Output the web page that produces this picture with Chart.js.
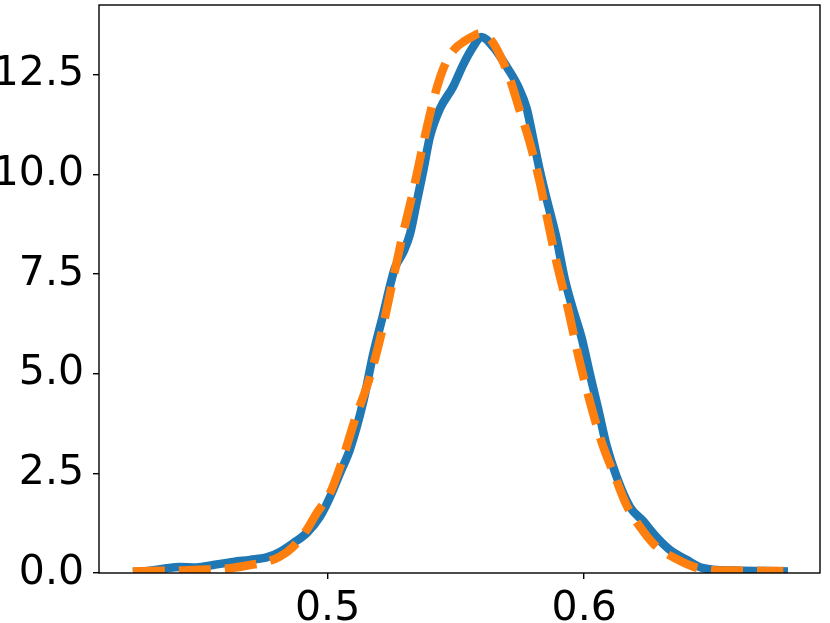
<!DOCTYPE html>
<html>
<head>
<meta charset="utf-8">
<script src="https://cdn.jsdelivr.net/npm/chart.js@4"></script>
<style>
  html, body { margin: 0; padding: 0; background: #fff; }
  #wrap { width: 830px; height: 623px; }
</style>
</head>
<body>
<div id="wrap"><canvas id="kdeChart" width="830" height="623"></canvas></div>
<script>
// solid blue curve
const blueX = [0.4241, 0.4307, 0.4373, 0.4424, 0.4489, 0.4554, 0.4632, 0.4697, 0.4762, 0.4814,
  0.4866, 0.4918, 0.4970, 0.5009, 0.5048, 0.5087, 0.5139, 0.5178, 0.5217, 0.5243,
  0.5262, 0.5295, 0.5321, 0.5347, 0.5373, 0.5399, 0.5438, 0.5489, 0.5528, 0.5567,
  0.5600, 0.5645, 0.5698, 0.5743, 0.5776, 0.5801, 0.5827, 0.5853, 0.5892, 0.5925,
  0.5957, 0.5990, 0.6022, 0.6055, 0.6087, 0.6126, 0.6178, 0.6230, 0.6282, 0.6334,
  0.6399, 0.6464, 0.6579, 0.6711, 0.6794];
const blueY = [0.03, 0.06, 0.12, 0.15, 0.14, 0.2, 0.28, 0.33, 0.39, 0.53,
  0.75, 1.0, 1.41, 1.9, 2.5, 3.1, 4.3, 5.5, 6.5, 7.2,
  7.65, 8.05, 8.5, 9.3, 10.1, 10.95, 11.65, 12.2, 12.75, 13.2,
  13.45, 13.2, 12.7, 12.2, 11.65, 10.9, 10.1, 9.4, 8.4, 7.35,
  6.6, 5.9, 5.0, 4.1, 3.2, 2.42, 1.66, 1.3, 0.9, 0.58,
  0.33, 0.12, 0.06, 0.05, 0.04];

// dashed orange curve
const orangeX = [0.4241, 0.4320, 0.4424, 0.4502, 0.4619, 0.4697, 0.4762, 0.4814, 0.4866, 0.4918,
  0.4957, 0.5009, 0.5048, 0.5106, 0.5165, 0.5210, 0.5243, 0.5288, 0.5334, 0.5379,
  0.5418, 0.5457, 0.5496, 0.5535, 0.5562, 0.5594, 0.5633, 0.5671, 0.5710, 0.5749,
  0.5788, 0.5827, 0.5859, 0.5892, 0.5938, 0.5977, 0.6016, 0.6046, 0.6074, 0.6120,
  0.6165, 0.6230, 0.6282, 0.6360, 0.6425, 0.6490, 0.6594, 0.6776];
const orangeY = [0.04, 0.05, 0.06, 0.08, 0.12, 0.2, 0.28, 0.41, 0.66, 1.08,
  1.5, 2.0, 2.65, 3.84, 4.92, 6.02, 7.0, 8.35, 9.6, 10.95,
  12.0, 12.75, 13.15, 13.35, 13.45, 13.54, 13.4, 13.0, 12.4, 11.6,
  10.8, 9.8, 8.8, 7.8, 6.6, 5.45, 4.45, 3.75, 3.17, 2.42,
  1.7, 1.05, 0.66, 0.35, 0.16, 0.08, 0.06, 0.05];

const xTicks = [0.5, 0.6];
const yTicks = [0, 2.5, 5, 7.5, 10, 12.5];
const xRange = [0.4109, 0.6919];
const yRange = [0, 14.25];

const toPoints = (xs, ys) => xs.map((x, i) => ({ x: x, y: ys[i] }));

// box round the plot area, like matplotlib spines
const frame = {
  id: 'frame',
  afterDraw(chart) {
    const a = chart.chartArea;
    const c = chart.ctx;
    c.save();
    c.strokeStyle = '#000';
    c.lineWidth = 1.4;
    c.strokeRect(a.left, a.top, a.right - a.left, a.bottom - a.top);
    c.restore();
  }
};

const tickFont = { family: 'DejaVu Sans', size: 41 };

new Chart(document.getElementById('kdeChart').getContext('2d'), {
  type: 'line',
  data: {
    datasets: [
      {
        label: 'b',
        data: toPoints(orangeX, orangeY),
        borderColor: '#ff7f0e',
        borderWidth: 8.5,
        borderDash: [32, 14],
        borderCapStyle: 'butt',
        pointRadius: 0,
        cubicInterpolationMode: 'monotone',
        fill: false,
        order: 0
      },
      {
        label: 'a',
        data: toPoints(blueX, blueY),
        borderColor: '#1f77b4',
        borderWidth: 8.5,
        pointRadius: 0,
        cubicInterpolationMode: 'monotone',
        fill: false,
        order: 1
      }
    ]
  },
  options: {
    responsive: false,
    animation: false,
    layout: { padding: { left: 0, right: 10, top: 5, bottom: 0 } },
    plugins: {
      legend: { display: false },
      tooltip: { enabled: false }
    },
    scales: {
      x: {
        type: 'linear',
        min: xRange[0],
        max: xRange[1],
        afterBuildTicks: s => { s.ticks = xTicks.map(v => ({ value: v })); },
        afterFit: s => { s.height = 50; s.paddingLeft = 0; s.paddingRight = 0; },
        grid: { drawOnChartArea: false, drawTicks: true, tickLength: 6, color: '#000', lineWidth: 1.4 },
        border: { display: false },
        ticks: {
          font: tickFont,
          color: '#000',
          padding: 6,
          maxRotation: 0,
          callback: v => v.toFixed(1)
        }
      },
      y: {
        min: yRange[0],
        max: yRange[1],
        afterBuildTicks: s => { s.ticks = yTicks.map(v => ({ value: v })); },
        afterFit: s => { s.width = 99; s.paddingTop = 0; s.paddingBottom = 0; },
        grid: { drawOnChartArea: false, drawTicks: true, tickLength: 6, color: '#000', lineWidth: 1.4 },
        border: { display: false },
        ticks: {
          font: tickFont,
          color: '#000',
          padding: 9,
          callback: v => v.toFixed(1)
        }
      }
    }
  },
  plugins: [frame]
});
</script>
</body>
</html>
